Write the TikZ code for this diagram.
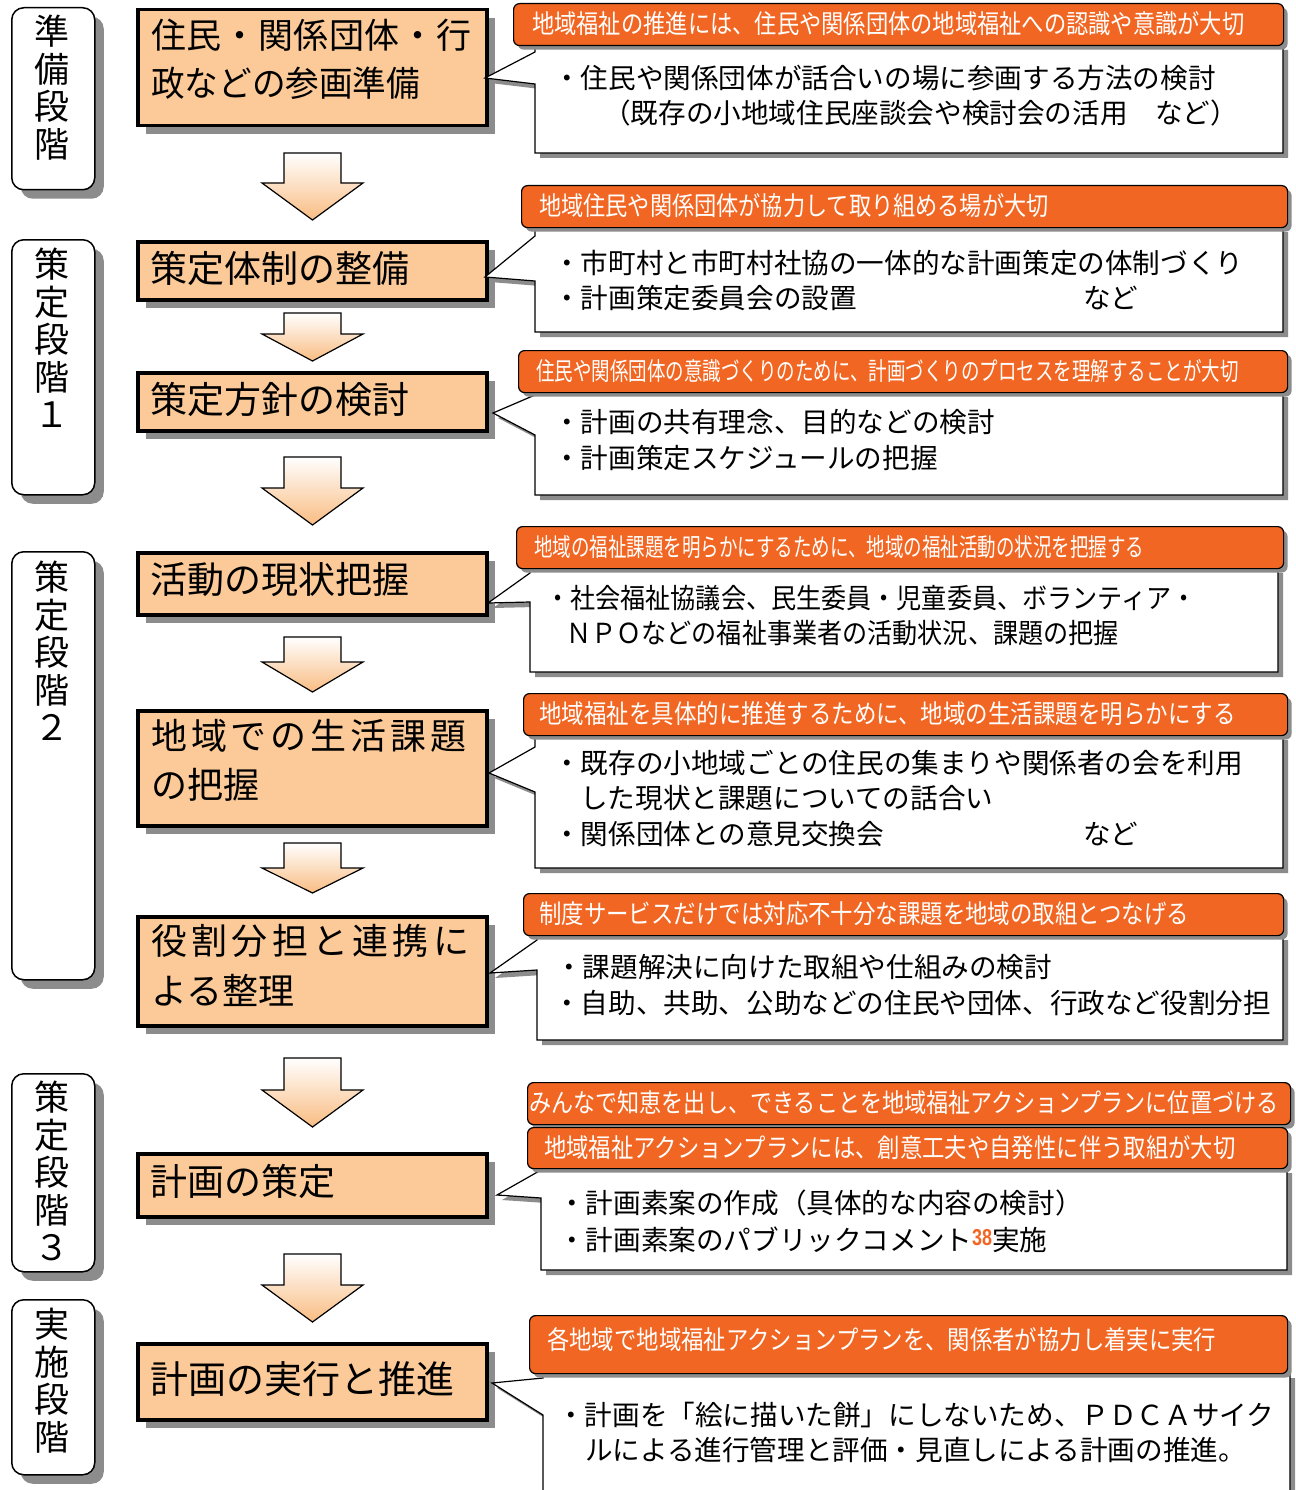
\documentclass[tikz,border=0pt]{standalone}
\usepackage{fontspec}
\setmainfont{Noto Sans CJK JP}
\newfontfamily\latb{Liberation Sans}
\usetikzlibrary{shadows}
\definecolor{peach}{RGB}{251,202,152}
\definecolor{hdr}{RGB}{241,102,34}
\definecolor{arrowpeach}{RGB}{249,188,130}
\definecolor{shadowgray}{RGB}{140,140,140}
\def\sprA#1{#1\sprB}
\def\sprB#1{\ifx#1\relax\else\hfil#1\expandafter\sprB\fi}
\newcommand\spreadtxt[2]{\makebox[#1][s]{\sprA#2\relax}}
\newcommand\hs[2]{\scalebox{#1}[1]{#2}}
\newcommand\callbody[8]{\draw[bodybox] (#1,#2) -- (#3,#2) -- (#3,#4) -- (#1,#4) -- (#1,#8) -- (#5,#6) -- (#1,#7) -- cycle;}
\newcommand\blockarrow[3]{\draw[barrow] (284,#1) -- (341,#1) -- (341,#2) -- (363,#2) -- (312.5,#3) -- (262,#2) -- (284,#2) -- cycle;}
\tikzset{
  mainbox/.style={draw, line width=3.5pt, fill=peach, minimum width=349pt, anchor=north west, inner sep=0pt,
    drop shadow={shadow xshift=8pt, shadow yshift=-8pt, fill=shadowgray, opacity=1}},
  stagebox/.style={draw, line width=1.5pt, fill=white, rounded corners=12pt, minimum width=83pt, anchor=north west, inner sep=0pt,
    drop shadow={shadow xshift=9pt, shadow yshift=-9pt, fill=shadowgray, opacity=1}},
  hdrbox/.style={draw, line width=1.2pt, fill=hdr, rounded corners=6pt, anchor=north west, inner sep=0pt,
    drop shadow={shadow xshift=4pt, shadow yshift=-4pt, fill=shadowgray, opacity=1}},
  bodybox/.style={draw, line width=1.2pt, fill=white,
    drop shadow={shadow xshift=5pt, shadow yshift=-5pt, fill=shadowgray, opacity=1}},
  barrow/.style={draw, line width=1.2pt, top color=white, bottom color=arrowpeach},
  mtext/.style={anchor=west, inner sep=0pt, font=\fontsize{36}{36}\selectfont},
  stext/.style={anchor=north, inner sep=0pt, align=center, font=\fontsize{35}{37.5}\selectfont},
  htext/.style={anchor=west, inner sep=0pt, text=white, font=\fontsize{26}{26}\selectfont},
  btext/.style={anchor=west, inner sep=0pt, font=\fontsize{27.6}{27.6}\selectfont},
}
\begin{document}
\begin{tikzpicture}[x=1pt,y=-1pt]
\useasboundingbox (0,0) rectangle (1295,1490);
\fill[white] (0,0) rectangle (1295,1490);

% stage labels
\node[stagebox, minimum height=182pt] (s1) at (11,7) {};
\node[stext] (s1t) at (52,15) {準\\備\\段\\階};
\node[stagebox, minimum height=255pt] (s2) at (11,239) {};
\node[stext] (s2t) at (52,248) {策\\定\\段\\階\\１};
\node[stagebox, minimum height=428pt] (s3) at (11,551) {};
\node[stext] (s3t) at (52,561) {策\\定\\段\\階\\２};
\node[stagebox, minimum height=198pt] (s4) at (11,1073) {};
\node[stext] (s4t) at (52,1081) {策\\定\\段\\階\\３};
\node[stagebox, minimum height=175pt] (s5) at (11,1299) {};
\node[stext] (s5t) at (52,1308) {実\\施\\段\\階};

% arrows
\blockarrow{153}{183}{220}
\blockarrow{313}{334}{361}
\blockarrow{457}{488}{525}
\blockarrow{637}{662}{692}
\blockarrow{843}{868}{893}
\blockarrow{1058}{1090}{1127}
\blockarrow{1254}{1285}{1322}

% main boxes
\node[mainbox, minimum height=116pt] (m1) at (136,8) {};
\node[mtext, font=\fontsize{35}{35}\selectfont] (m1a) at (151,35) {\spreadtxt{320pt}{住民・関係団体・行}};
\node[mtext, font=\fontsize{35}{35}\selectfont] (m1b) at (151,83) {\hs{0.96}{政などの参画準備}};
\node[mainbox, minimum height=58pt] (m2) at (136,240) {};
\node[mtext, font=\fontsize{37}{37}\selectfont] (m2t) at (150,268) {策定体制の整備};
\node[mainbox, minimum height=58pt] (m3) at (136,371) {};
\node[mtext, font=\fontsize{37}{37}\selectfont] (m3t) at (150,399) {策定方針の検討};
\node[mainbox, minimum height=62pt] (m4) at (136,551) {};
\node[mtext, font=\fontsize{37}{37}\selectfont] (m4t) at (150,580) {活動の現状把握};
\node[mainbox, minimum height=115pt] (m5) at (136,709) {};
\node[mtext] (m5a) at (151,736) {\spreadtxt{315pt}{地域での生活課題}};
\node[mtext] (m5b) at (151,785) {の把握};
\node[mainbox, minimum height=109pt] (m6) at (136,915) {};
\node[mtext] (m6a) at (151,941) {\spreadtxt{318pt}{役割分担と連携に}};
\node[mtext] (m6b) at (151,990) {よる整理};
\node[mainbox, minimum height=63pt] (m7) at (136,1152) {};
\node[mtext, font=\fontsize{37}{37}\selectfont] (m7t) at (150,1181) {計画の策定};
\node[mainbox, minimum height=76pt] (m8) at (136,1342) {};
\node[mtext, font=\fontsize{38}{38}\selectfont] (m8t) at (150,1379) {計画の実行と推進};

% callout bodies
\callbody{535}{45}{1283}{153}{485}{78}{52}{84}
\callbody{535}{227}{1283}{332}{485}{277}{236}{281}
\callbody{535}{392}{1283}{495}{493}{413}{395}{435}
\callbody{530}{568}{1278}{672}{488}{603}{573}{602}
\callbody{535}{735}{1283}{868}{489}{773}{747}{792}
\callbody{537}{935}{1283}{1040}{490}{973}{940}{970}
\callbody{541}{1168}{1287}{1270}{497}{1195}{1170}{1198}
\callbody{543}{1373}{1290}{1510}{492}{1383}{1378}{1415}

% headers
\node[hdrbox, minimum width=770pt, minimum height=42pt] (h1) at (513,3) {};
\node[htext] (h1t) at (532,24) {\hs{0.856}{地域福祉の推進には、住民や関係団体の地域福祉への認識や意識が大切}};
\node[hdrbox, minimum width=766pt, minimum height=42pt] (h2) at (521,185) {};
\node[htext] (h2t) at (539,206) {\hs{0.853}{地域住民や関係団体が協力して取り組める場が大切}};
\node[hdrbox, minimum width=769pt, minimum height=42pt] (h3) at (518,350) {};
\node[htext, font=\fontsize{25}{25}\selectfont] (h3t) at (536,371) {\hs{0.74}{住民や関係団体の意識づくりのために、計画づくりのプロセスを理解することが大切}};
\node[hdrbox, minimum width=767pt, minimum height=42pt] (h4) at (516,526) {};
\node[htext, font=\fontsize{25}{25}\selectfont] (h4t) at (534,547) {\hs{0.74}{地域の福祉課題を明らかにするために、地域の福祉活動の状況を把握する}};
\node[hdrbox, minimum width=764pt, minimum height=42pt] (h5) at (523,693) {};
\node[htext] (h5t) at (539,714) {\hs{0.865}{地域福祉を具体的に推進するために、地域の生活課題を明らかにする}};
\node[hdrbox, minimum width=760pt, minimum height=42pt] (h6) at (523,893) {};
\node[htext] (h6t) at (539,914) {\hs{0.863}{制度サービスだけでは対応不十分な課題を地域の取組とつなげる}};
\node[hdrbox, minimum width=763pt, minimum height=42pt] (h7a) at (527,1082) {};
\node[htext] (h7at) at (529,1103) {\hs{0.85}{みんなで知恵を出し、できることを地域福祉アクションプランに位置づける}};
\node[hdrbox, minimum width=760pt, minimum height=41pt] (h7b) at (527,1127) {};
\node[htext] (h7bt) at (544,1148) {\hs{0.86}{地域福祉アクションプランには、創意工夫や自発性に伴う取組が大切}};
\node[hdrbox, minimum width=758pt, minimum height=58pt] (h8) at (529,1315) {};
\node[htext] (h8t) at (547,1340) {\hs{0.86}{各地域で地域福祉アクションプランを、関係者が協力し着実に実行}};

% body texts
\node[btext] (c1a) at (553,78) {・住民や関係団体が話合いの場に参画する方法の検討};
\node[btext] (c1b) at (603,113) {（既存の小地域住民座談会や検討会の活用　など）};
\node[btext] (c2a) at (553,263) {・市町村と市町村社協の一体的な計画策定の体制づくり};
\node[btext] (c2b) at (553,298) {\makebox[530pt][l]{・計画策定委員会の設置}など};
\node[btext] (c3a) at (553,422) {・計画の共有理念、目的などの検討};
\node[btext] (c3b) at (553,458) {・計画策定スケジュールの把握};
\node[btext] (c4a) at (545,598) {\hs{0.91}{・社会福祉協議会、民生委員・児童委員、ボランティア・}};
\node[btext] (c4b) at (566,633) {\hs{0.91}{ＮＰＯなどの福祉事業者の活動状況、課題の把握}};
\node[btext] (c5a) at (553,763) {・既存の小地域ごとの住民の集まりや関係者の会を利用};
\node[btext] (c5b) at (580,798) {した現状と課題についての話合い};
\node[btext] (c5c) at (553,834) {\makebox[530pt][l]{・関係団体との意見交換会}など};
\node[btext] (c6a) at (555,967) {・課題解決に向けた取組や仕組みの検討};
\node[btext] (c6b) at (553,1003) {・自助、共助、公助などの住民や団体、行政など役割分担};
\node[btext] (c7a) at (558,1203) {・計画素案の作成（具体的な内容の検討）};
\node[btext] (c7b) at (558,1240) {・計画素案のパブリックコメント{\latb\bfseries\color{hdr}\fontsize{23}{23}\selectfont\raisebox{5pt}{\hs{0.78}{38}}}実施};
\node[btext] (c8a) at (557,1415) {・計画を「絵に描いた餅」にしないため、ＰＤＣＡサイク};
\node[btext] (c8b) at (585,1450) {ルによる進行管理と評価・見直しによる計画の推進。};
\end{tikzpicture}
\end{document}
